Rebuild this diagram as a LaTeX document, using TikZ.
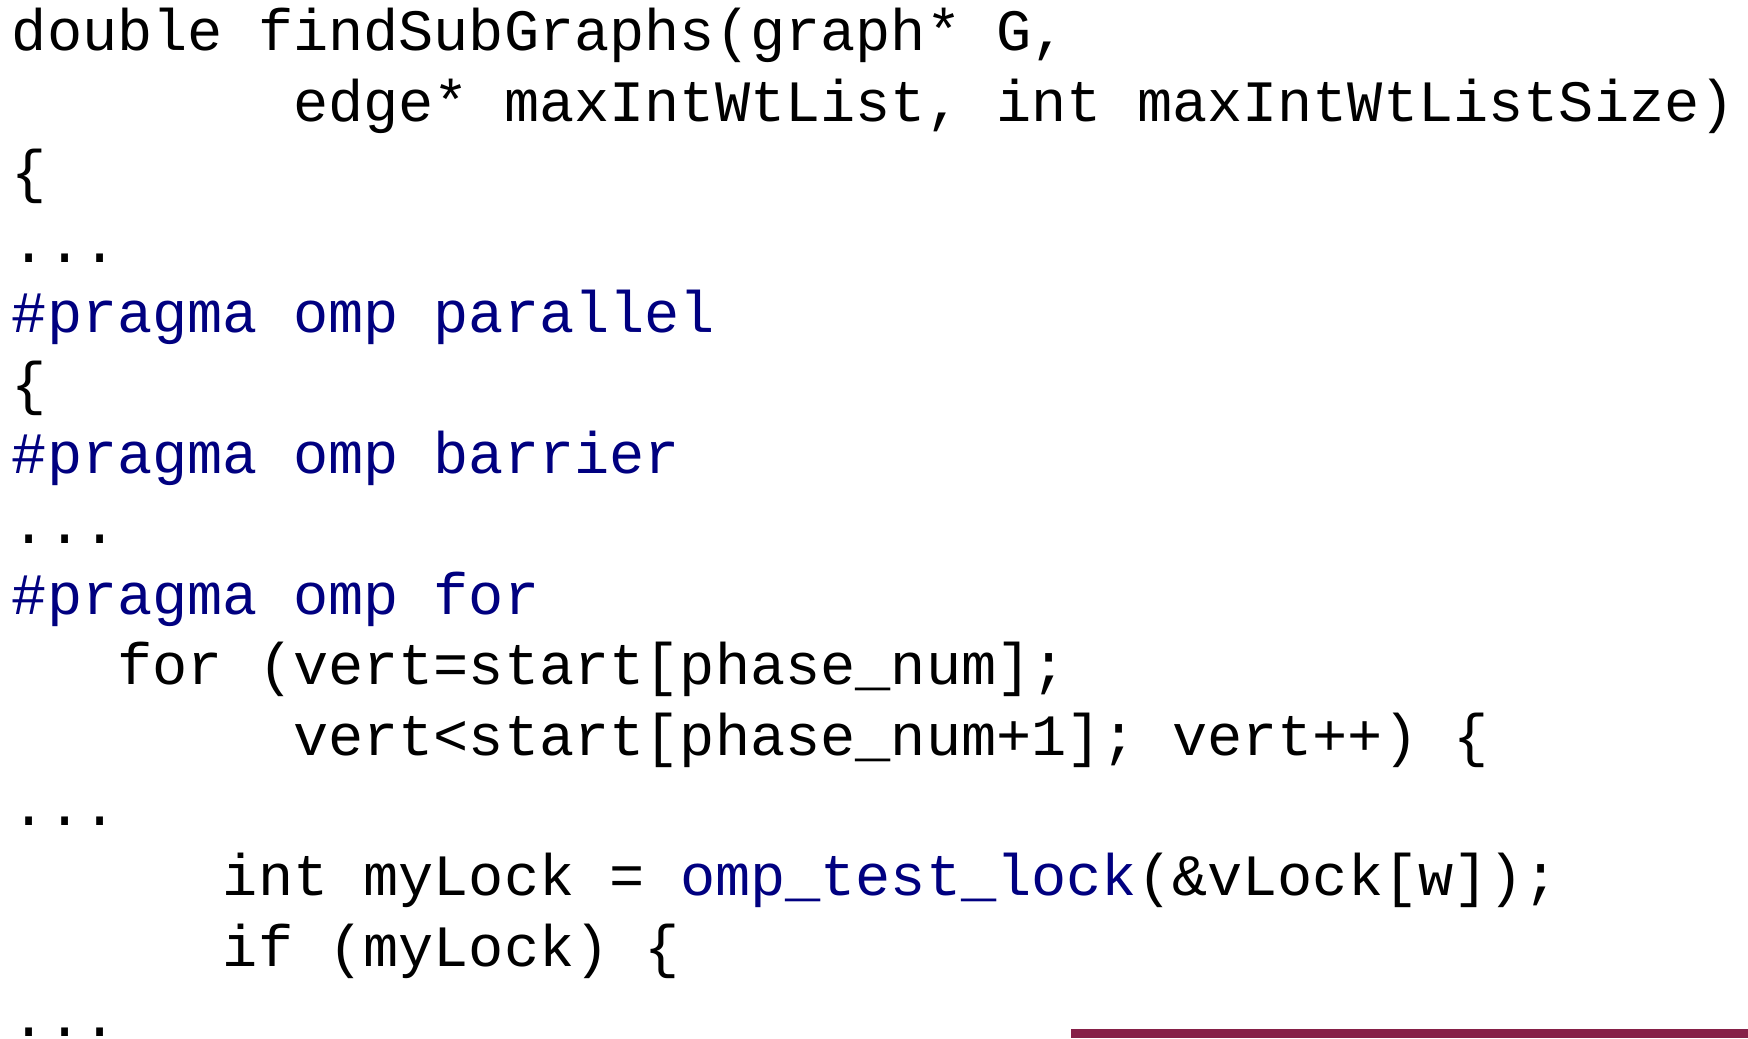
\documentclass[tikz,border=0pt]{standalone}
\usepackage{fontspec}
\newfontfamily\codefont{Liberation Mono}
\definecolor{kw}{RGB}{0,0,128}
\definecolor{barcol}{RGB}{134,32,72}
\begin{document}
\begin{tikzpicture}[x=0.5pt,y=-0.5pt,
  codeline/.style={anchor=base west,inner sep=0pt,font=\codefont\fontsize{29.3pt}{35pt}\selectfont,text=black}]
\useasboundingbox (0,0) rectangle (1748,1038);
\fill[white] (0,0) rectangle (1748,1038);
\def\cw{35.16}
\def\lx{11.5}
\node[codeline] (l1) at (\lx,51) {double findSubGraphs(graph* G,};
\node[codeline] (l2) at (\lx+8*\cw,121.4) {edge* maxIntWtList, int maxIntWtListSize)};
\node[codeline] (l3) at (\lx,191.8) {\{};
\node[codeline] (l4) at (\lx,262.2) {...};
\node[codeline,text=kw] (l5) at (\lx,332.6) {\#pragma omp parallel};
\node[codeline] (l6) at (\lx,403) {\{};
\node[codeline,text=kw] (l7) at (\lx,473.4) {\#pragma omp barrier};
\node[codeline] (l8) at (\lx,543.8) {...};
\node[codeline,text=kw] (l9) at (\lx,614.2) {\#pragma omp for};
\node[codeline] (l10) at (\lx+3*\cw,684.6) {for (vert=start[phase\_num];};
\node[codeline] (l11) at (\lx+8*\cw,755) {vert<start[phase\_num+1]; vert++) \{};
\node[codeline] (l12) at (\lx,825.4) {...};
\node[codeline] (l13) at (\lx+6*\cw,895.8) {int myLock = \textcolor{kw}{omp\_test\_lock}(\&vLock[w]);};
\node[codeline] (l14) at (\lx+6*\cw,966.2) {if (myLock) \{};
\node[codeline] (l15) at (\lx,1036.6) {...};
\fill[barcol] (1071,1029) rectangle (1748,1038);
\end{tikzpicture}
\end{document}
